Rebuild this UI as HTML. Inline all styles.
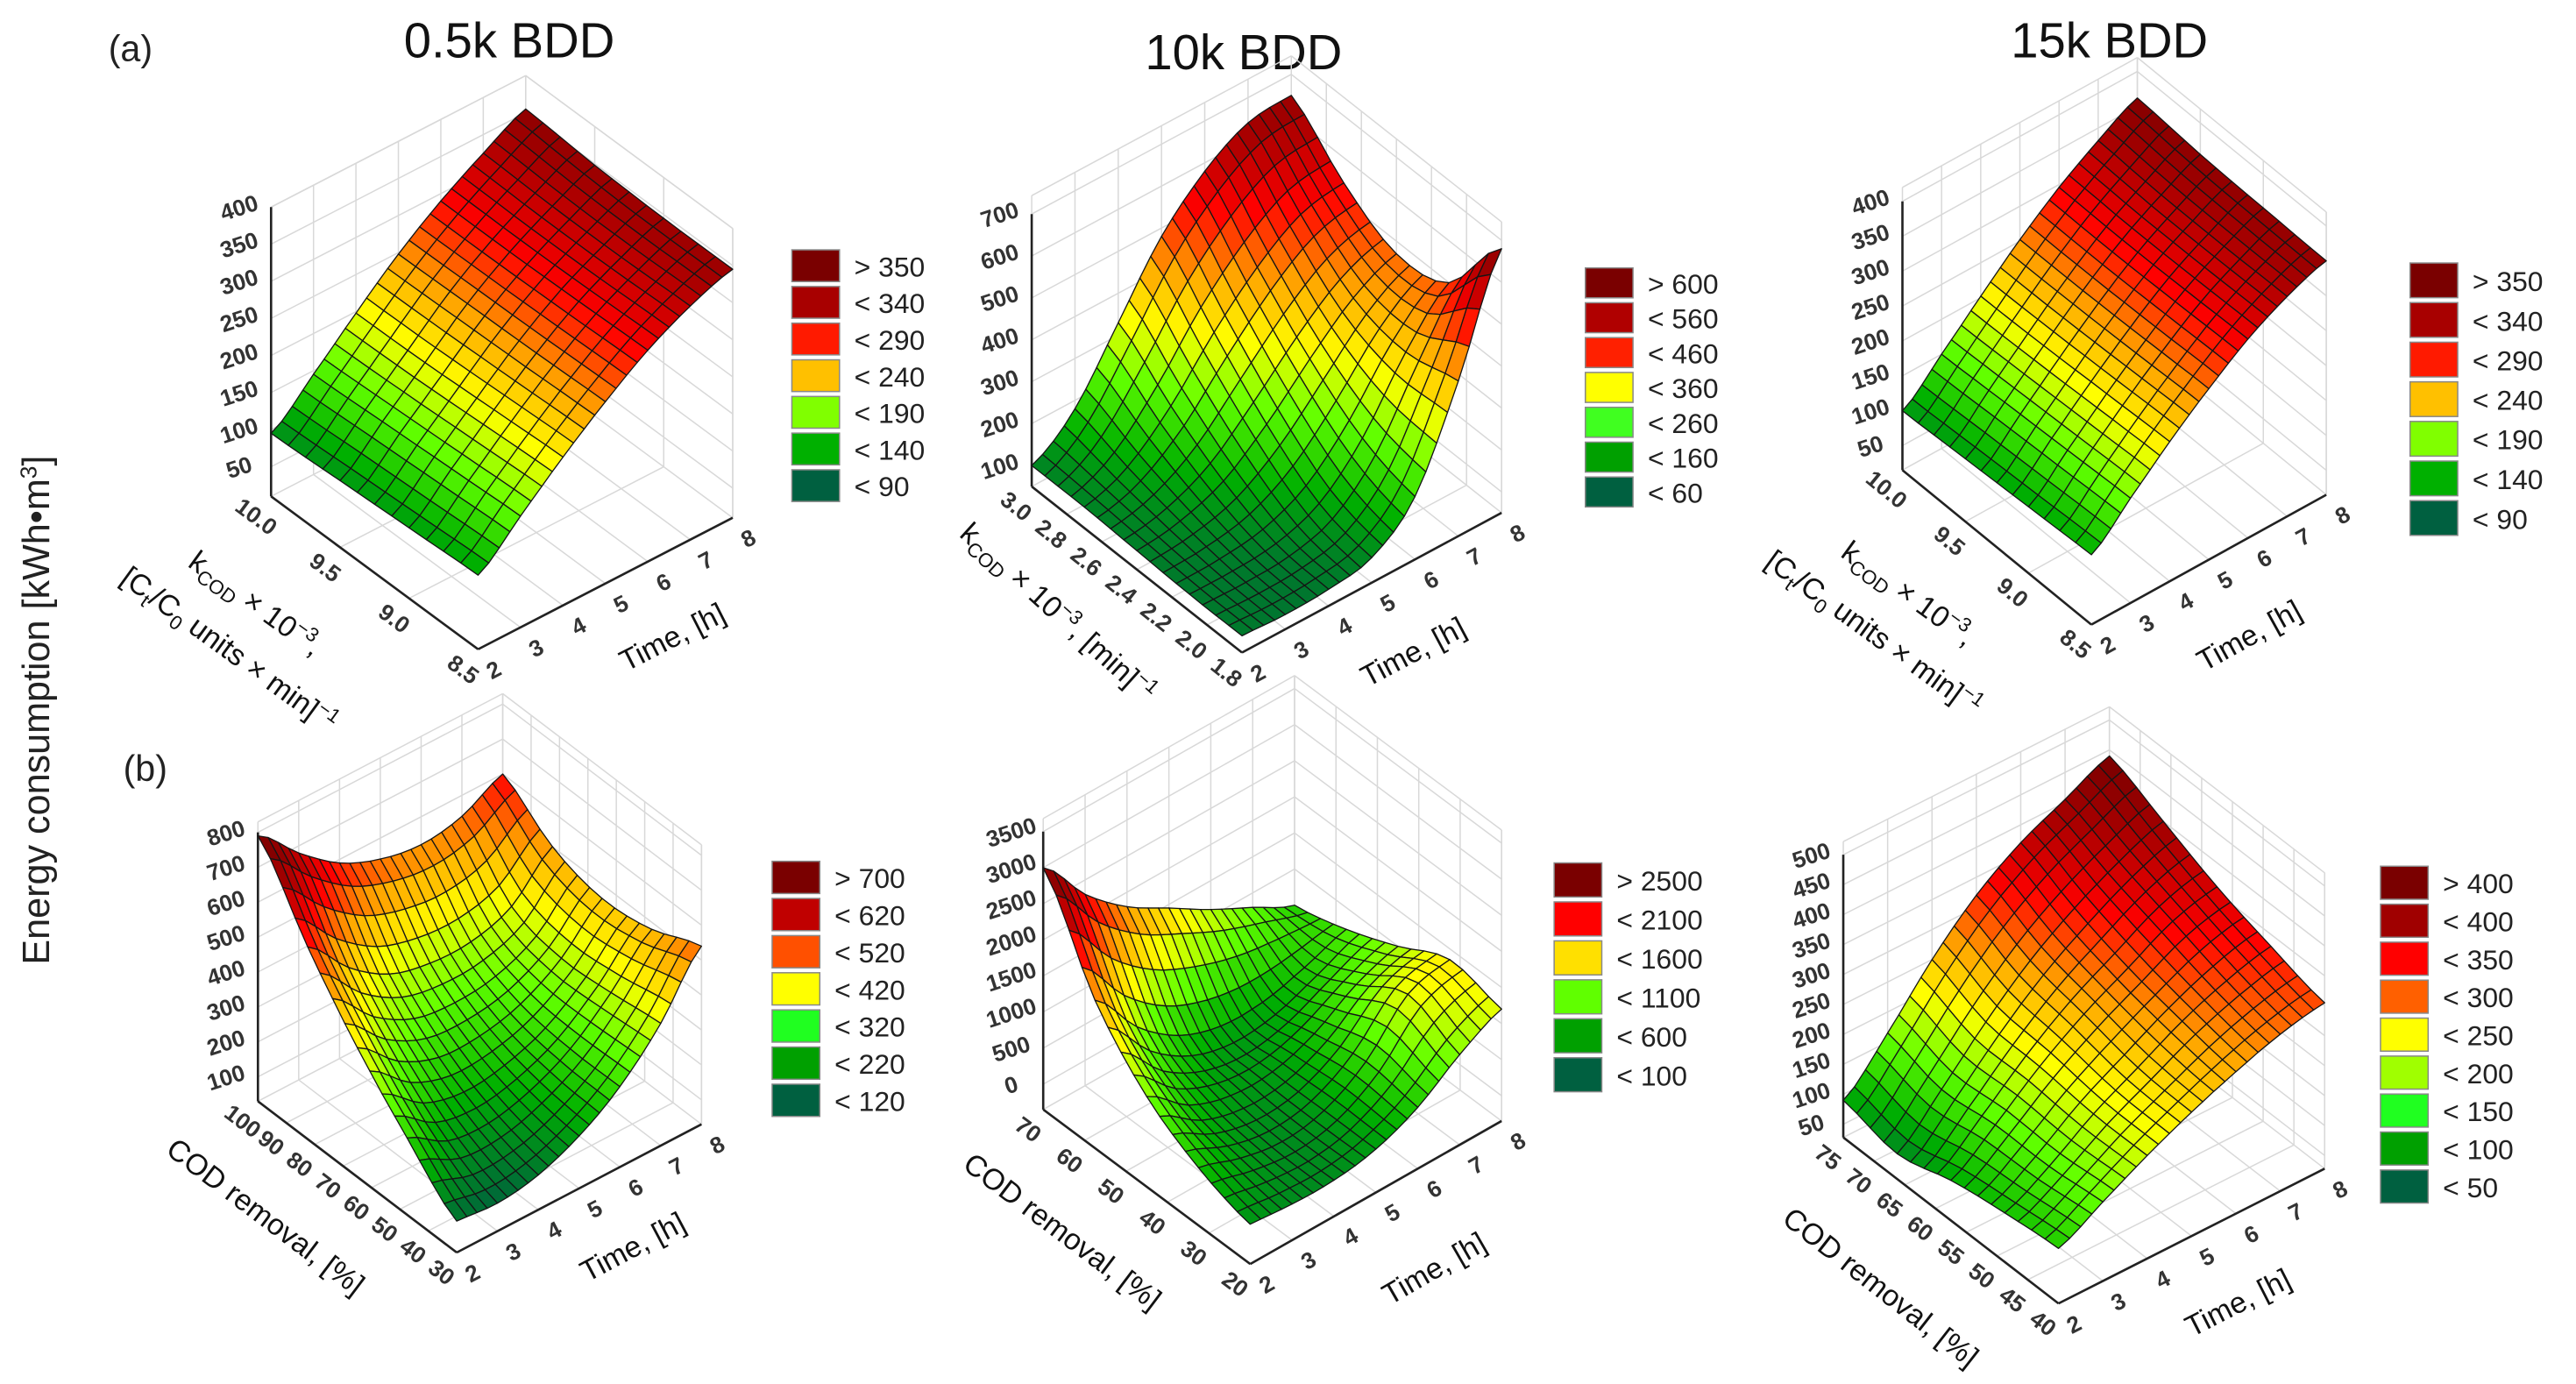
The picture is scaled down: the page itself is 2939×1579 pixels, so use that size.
<!DOCTYPE html>
<html><head><meta charset="utf-8"><style>
html,body{margin:0;padding:0;background:#fff;}
svg{display:block;font-family:"Liberation Sans",Arial,sans-serif;}
</style></head><body>
<svg id="fig" width="2939" height="1579" viewBox="0 0 1568 842" preserveAspectRatio="none" xmlns="http://www.w3.org/2000/svg">
<rect width="1568" height="842" fill="#fff"/>
<text x="66" y="37" font-size="22" fill="#222">(a)</text>
<text x="75" y="475" font-size="22" fill="#222">(b)</text>
<text x="310" y="35" font-size="30" text-anchor="middle" fill="#111">0.5k BDD</text>
<text x="757" y="42" font-size="30" text-anchor="middle" fill="#111">10k BDD</text>
<text x="1284" y="35" font-size="30" text-anchor="middle" fill="#111">15k BDD</text>
<text transform="translate(30,432) rotate(-90)" font-size="23" text-anchor="middle" fill="#222">Energy consumption [kWh•m<tspan dy="-8" font-size="14">3</tspan><tspan dy="8">]</tspan></text>

<g fill="#111" font-size="18" text-anchor="middle">
<text transform="translate(152,372) rotate(36)">k<tspan font-size="12" dy="4">COD</tspan><tspan dy="-4"> × 10</tspan><tspan font-size="12" dy="-7">−3</tspan><tspan dy="7">,</tspan></text>
<text transform="translate(136,400) rotate(36)">[C<tspan font-size="12" dy="4">t</tspan><tspan dy="-4">/C</tspan><tspan font-size="12" dy="4">0</tspan><tspan dy="-4"> units × min]</tspan><tspan font-size="12" dy="-7">−1</tspan></text>
<text transform="translate(412,393) rotate(-27)">Time, [h]</text>
<text transform="translate(640,377) rotate(42)">k<tspan font-size="12" dy="4">COD</tspan><tspan dy="-4"> × 10</tspan><tspan font-size="12" dy="-7">−3</tspan><tspan dy="7">, [min]</tspan><tspan font-size="12" dy="-7">−1</tspan></text>
<text transform="translate(863,402) rotate(-28)">Time, [h]</text>
<text transform="translate(1158,366) rotate(36)">k<tspan font-size="12" dy="4">COD</tspan><tspan dy="-4"> × 10</tspan><tspan font-size="12" dy="-7">−3</tspan><tspan dy="7">,</tspan></text>
<text transform="translate(1137,390) rotate(36)">[C<tspan font-size="12" dy="4">t</tspan><tspan dy="-4">/C</tspan><tspan font-size="12" dy="4">0</tspan><tspan dy="-4"> units × min]</tspan><tspan font-size="12" dy="-7">−1</tspan></text>
<text transform="translate(1372,392) rotate(-29)">Time, [h]</text>
<text transform="translate(158,745) rotate(37)">COD removal, [%]</text>
<text transform="translate(388,764) rotate(-28)">Time, [h]</text>
<text transform="translate(643,754) rotate(37)">COD removal, [%]</text>
<text transform="translate(876,777) rotate(-30)">Time, [h]</text>
<text transform="translate(1141,788) rotate(38)">COD removal, [%]</text>
<text transform="translate(1365,798) rotate(-27)">Time, [h]</text>
</g>
<g id="plots"></g>
</svg>
<script>
// ---- data ----
const timeValues = [2, 3, 4, 5, 6, 7, 8];
const timeTicks = [2, 3, 4, 5, 6, 7, 8];

const a1Y = [8.5, 9.0, 9.5, 10.0];
const a1Z = [
  [110,160,210,255,295,325,345],
  [105,155,205,252,292,322,345],
  [100,150,200,250,290,322,348],
  [95,145,198,248,290,325,355]];
const a1YTicks = [8.5, 9.0, 9.5, 10.0];
const a1ZTicks = [50,100,150,200,250,300,350,400];
const a1LegendLabels = ["> 350","< 340","< 290","< 240","< 190","< 140","< 90"];

const a2Y = [1.8, 2.1, 2.4, 2.7, 3.0];
const a2Z = [
  [90,85,90,110,200,420,680],
  [90,90,100,140,240,390,500],
  [95,110,150,230,330,420,470],
  [100,140,230,350,450,520,540],
  [100,180,330,480,580,640,650]];
const a2YTicks = [1.8, 2.0, 2.2, 2.4, 2.6, 2.8, 3.0];
const a2ZTicks = [100,200,300,400,500,600,700];
const a2LegendLabels = ["> 600","< 560","< 460","< 360","< 260","< 160","< 60"];

const a3Y = [8.5, 9.0, 9.5, 10.0];
const a3Z = [
  [115,165,215,260,300,330,350],
  [110,160,210,256,297,328,352],
  [105,155,205,253,295,328,355],
  [100,150,202,252,296,332,362]];
const a3YTicks = [8.5, 9.0, 9.5, 10.0];
const a3ZTicks = [50,100,150,200,250,300,350,400];
const a3LegendLabels = ["> 350","< 340","< 290","< 240","< 190","< 140","< 90"];

const b1Y = [30, 47.5, 65, 82.5, 100];
const b1Z = [
  [120,110,130,180,260,380,540],
  [250,180,170,200,260,360,480],
  [400,300,250,250,280,350,460],
  [580,460,380,350,350,390,500],
  [790,680,590,540,520,540,600]];
const b1YTicks = [30,40,50,60,70,80,90,100];
const b1ZTicks = [100,200,300,400,500,600,700,800];
const b1LegendLabels = ["> 700","< 620","< 520","< 420","< 320","< 220","< 120"];

const b2Y = [20, 32.5, 45, 57.5, 70];
const b2Z = [
  [200,150,150,250,500,900,1200],
  [450,250,150,250,600,1200,1350],
  [900,450,250,250,450,800,1000],
  [1700,1000,550,350,350,500,700],
  [3000,2300,1800,1450,1100,800,500]];
const b2YTicks = [20,30,40,50,60,70];
const b2ZTicks = [0,500,1000,1500,2000,2500,3000,3500];
const b2LegendLabels = ["> 2500","< 2100","< 1600","< 1100","< 600","< 100"];

const b3Y = [40, 48.75, 57.5, 66.25, 75];
const b3Z = [
  [120,160,200,235,265,290,305],
  [110,150,200,240,280,310,330],
  [95,150,210,260,300,340,360],
  [70,140,215,280,330,370,400],
  [90,165,250,320,370,405,440]];
const b3YTicks = [40,45,50,55,60,65,70,75];
const b3ZTicks = [50,100,150,200,250,300,350,400,450,500];
const b3LegendLabels = ["> 400","< 400","< 350","< 300","< 250","< 200","< 150","< 100","< 50"];

// ---- styles / geometry ----
const ramp = [[0,96,64],[0,176,0],[96,255,0],[255,255,0],[255,160,0],[255,0,0],[168,0,0],[112,0,0]];
function rampColor(f){
  f = Math.max(0, Math.min(1, f)) * (ramp.length - 1);
  const i = Math.min(ramp.length - 2, Math.floor(f)), t = f - i;
  const c = ramp[i].map((v, k) => Math.round(v + (ramp[i+1][k] - v) * t));
  return `rgb(${c[0]},${c[1]},${c[2]})`;
}
const NS = "http://www.w3.org/2000/svg";
function mk(tag, attrs, parent){
  const e = document.createElementNS(NS, tag);
  for (const k in attrs) e.setAttribute(k, attrs[k]);
  parent.appendChild(e); return e;
}
const legA = ["#7a0000","#a80000","#ff1a00","#ffc000","#80ff00","#00b000","#006040"];
const panels = [
  {id:"a1", Y:a1Y, Z:a1Z, yT:a1YTicks, zT:a1ZTicks, lab:a1LegendLabels, leg:legA,
   F:[291,395], R:[446,315], L:[165,302], H:-176, zr:[10,400], cr:[70,380], yr:[8.5,10], dec:1,
   lg:[482,152,22.3]},
  {id:"a2", Y:a2Y, Z:a2Z, yT:a2YTicks, zT:a2ZTicks, lab:a2LegendLabels,
   leg:["#7a0000","#b00000","#ff2000","#ffff00","#40ff20","#00a000","#006040"],
   F:[756,397], R:[914,312], L:[628,296], H:-177, zr:[50,744], cr:[60,720], yr:[1.8,3.0], dec:1,
   lg:[965,163,21.2]},
  {id:"a3", Y:a3Y, Z:a3Z, yT:a3YTicks, zT:a3ZTicks, lab:a3LegendLabels, leg:legA,
   F:[1273,380], R:[1416,301], L:[1158,286], H:-172, zr:[15,420], cr:[70,380], yr:[8.5,10], dec:1,
   lg:[1467,160,24.1]},
  {id:"b1", Y:b1Y, Z:b1Z, yT:b1YTicks, zT:b1ZTicks, lab:b1LegendLabels,
   leg:["#7a0000","#c00000","#ff5000","#ffff00","#20ff20","#00a000","#006040"],
   F:[278,762], R:[427,684], L:[157,670], H:-170, zr:[30,830], cr:[100,800], yr:[30,100], dec:0,
   lg:[470,524,22.6]},
  {id:"b2", Y:b2Y, Z:b2Z, yT:b2YTicks, zT:b2ZTicks, lab:b2LegendLabels,
   leg:["#7a0000","#ff0000","#ffe000","#60ff00","#00a000","#006040"],
   F:[761,769], R:[914,682], L:[635,675], H:-177, zr:[-350,3680], cr:[-100,3100], yr:[20,70], dec:0,
   lg:[946,525,23.7]},
  {id:"b3", Y:b3Y, Z:b3Z, yT:b3YTicks, zT:b3ZTicks, lab:b3LegendLabels,
   leg:["#7a0000","#a00000","#ff0000","#ff6000","#ffff00","#a0ff00","#20ff20","#00a000","#006040"],
   F:[1253,793], R:[1415,711], L:[1122,692], H:-180, zr:[28,522], cr:[40,450], yr:[40,75], dec:0,
   lg:[1449,527,23.1]}
];

// Catmull-Rom helper (rendering smoothness between data nodes)
function cr1(p0, p1, p2, p3, t){
  return 0.5 * ((2*p1) + (-p0 + p2)*t + (2*p0 - 5*p1 + 4*p2 - p3)*t*t + (-p0 + 3*p1 - 3*p2 + p3)*t*t*t);
}
function sampleGrid(Z, fi, fj){
  const ny = Z.length, nt = Z[0].length;
  const i = Math.min(ny-2, Math.floor(fi)), j = Math.min(nt-2, Math.floor(fj));
  const b = fi - i, a = fj - j;
  const cl = (v, n) => Math.max(0, Math.min(n-1, v));
  const rows = [];
  for (let r = -1; r <= 2; r++) {
    const row = Z[cl(i+r, ny)];
    rows.push(cr1(row[cl(j-1,nt)], row[cl(j,nt)], row[cl(j+1,nt)], row[cl(j+2,nt)], a));
  }
  return cr1(rows[0], rows[1], rows[2], rows[3], b);
}

const root = document.getElementById("plots");
panels.forEach(p => {
  const g = mk("g", {}, root);
  
  
  const U = [p.R[0]-p.F[0], p.R[1]-p.F[1]], V = [p.L[0]-p.F[0], p.L[1]-p.F[1]];
  const tmin = timeValues[0], tmax = timeValues[timeValues.length-1];
  const uOf = t => (t - tmin) / (tmax - tmin);
  const vOf = y => (y - p.yr[0]) / (p.yr[1] - p.yr[0]);
  const wOf = z => (z - p.zr[0]) / (p.zr[1] - p.zr[0]);
  const P = (u, v, w) => [p.F[0] + u*U[0] + v*V[0], p.F[1] + u*U[1] + v*V[1] + w*p.H];
  const pt = a => a[0].toFixed(1) + "," + a[1].toFixed(1);
  const grid = mk("g", {stroke:"#d8d8d8", "stroke-width":"0.8", fill:"none"}, g);
  
  
  const line = (a, b, par) => mk("line", {x1:a[0], y1:a[1], x2:b[0], y2:b[1]}, par);
  timeTicks.forEach(t => { const u = uOf(t); line(P(u,1,0), P(u,1,1), grid); line(P(u,0,0), P(u,1,0), grid); });
  p.yT.forEach(y => { const v = vOf(y); line(P(1,v,0), P(1,v,1), grid); line(P(0,v,0), P(1,v,0), grid); });
  p.zT.forEach(z => { const w = wOf(z); line(P(0,1,w), P(1,1,w), grid); line(P(1,1,w), P(1,0,w), grid); });
  line(P(0,1,1), P(1,1,1), grid); line(P(1,1,1), P(1,0,1), grid); line(P(1,0,0), P(1,0,1), grid);
  const ax = mk("g", {stroke:"#222", "stroke-width":"1.4", fill:"none"}, g);
  
  
  line(P(0,1,0), P(0,0,0), ax); line(P(0,0,0), P(1,0,0), ax); line(P(0,1,0), P(0,1,wOf(p.zT[p.zT.length-1])), ax);
  // surface
  const S = 4, quads = [];
  const ny = p.Y.length, nt = timeValues.length;
  const uAt = fj => { const j = Math.min(nt-2, Math.floor(fj)); return uOf(timeValues[j] + (timeValues[j+1]-timeValues[j])*(fj-j)); };
  const vAt = fi => { const i = Math.min(ny-2, Math.floor(fi)); return vOf(p.Y[i] + (p.Y[i+1]-p.Y[i])*(fi-i)); };
  for (let i = 0; i < ny-1; i++) for (let j = 0; j < nt-1; j++) {
    for (let si = 0; si < S; si++) for (let sj = 0; sj < S; sj++) {
      const c = [[j+sj/S, i+si/S],[j+(sj+1)/S, i+si/S],[j+(sj+1)/S, i+(si+1)/S],[j+sj/S, i+(si+1)/S]];
      const pts = c.map(q => P(uAt(q[0]), vAt(q[1]), wOf(sampleGrid(p.Z, q[1], q[0]))));
      const fj = j+(sj+0.5)/S, fi = i+(si+0.5)/S;
      const zc = sampleGrid(p.Z, fi, fj);
      quads.push({pts, zc, depth: uAt(fj) + vAt(fi)});
    }
  }
  quads.sort((a, b) => b.depth - a.depth);
  const sg = mk("g", {stroke:"#151515", "stroke-width":"0.7", "stroke-linejoin":"round"}, g);
  
  
  quads.forEach(q => {
    const poly = mk("polygon", {points: q.pts.map(pt).join(" "), fill: rampColor((q.zc - p.cr[0]) / (p.cr[1] - p.cr[0]))}, sg);
    
    
  });
  const tg = mk("g", {fill:"#333", "font-size":"14", "font-weight":"bold", "text-anchor":"middle"}, g);
  
  
  const nV = Math.hypot(V[0], V[1]), dV = [-V[0]/nV, -V[1]/nV];
  const angV = Math.atan2(dV[1], dV[0]) * 180 / Math.PI;
  const nrmV = [-dV[1], dV[0]];
  p.yT.forEach(y => {
    const q = P(0, vOf(y), 0), x = q[0] + nrmV[0]*15, yy = q[1] + nrmV[1]*15;
    const t = mk("text", {transform:`translate(${x.toFixed(1)},${yy.toFixed(1)}) rotate(${angV.toFixed(1)})`, dy:"5"}, tg);
    
    
    t.textContent = y.toFixed(p.dec);
  });
  const nU = Math.hypot(U[0], U[1]), dU = [U[0]/nU, U[1]/nU];
  const angU = Math.atan2(dU[1], dU[0]) * 180 / Math.PI;
  const nrmU = [-dU[1], dU[0]];
  timeTicks.forEach(tv => {
    const q = P(uOf(tv), 0, 0), x = q[0] + nrmU[0]*14 + 3, yy = q[1] + nrmU[1]*14;
    const t = mk("text", {transform:`translate(${x.toFixed(1)},${yy.toFixed(1)}) rotate(${angU.toFixed(1)})`, dy:"5"}, tg);
    
    
    t.textContent = tv;
  });
  p.zT.forEach(z => {
    const q = P(0, 1, wOf(z));
    const t = mk("text", {transform:`translate(${(q[0]-18).toFixed(1)},${(q[1]+5).toFixed(1)}) rotate(-18)`}, tg);
    
    
    t.textContent = z;
  });
  const lg = mk("g", {}, g);
  
  
  p.lab.forEach((lab, k) => {
    const y = p.lg[1] + k * p.lg[2];
    const r = mk("rect", {x:p.lg[0], y:y, width:29, height:p.lg[2]-3, fill:p.leg[k], stroke:"#888", "stroke-width":"0.8"}, lg);
    
    
    const t = mk("text", {x:p.lg[0]+38, y:(y + p.lg[2]/2 + 5).toFixed(1), "font-size":"17", fill:"#222"}, lg);
    
    
    t.textContent = lab;
  });
});
</script>
</body></html>
